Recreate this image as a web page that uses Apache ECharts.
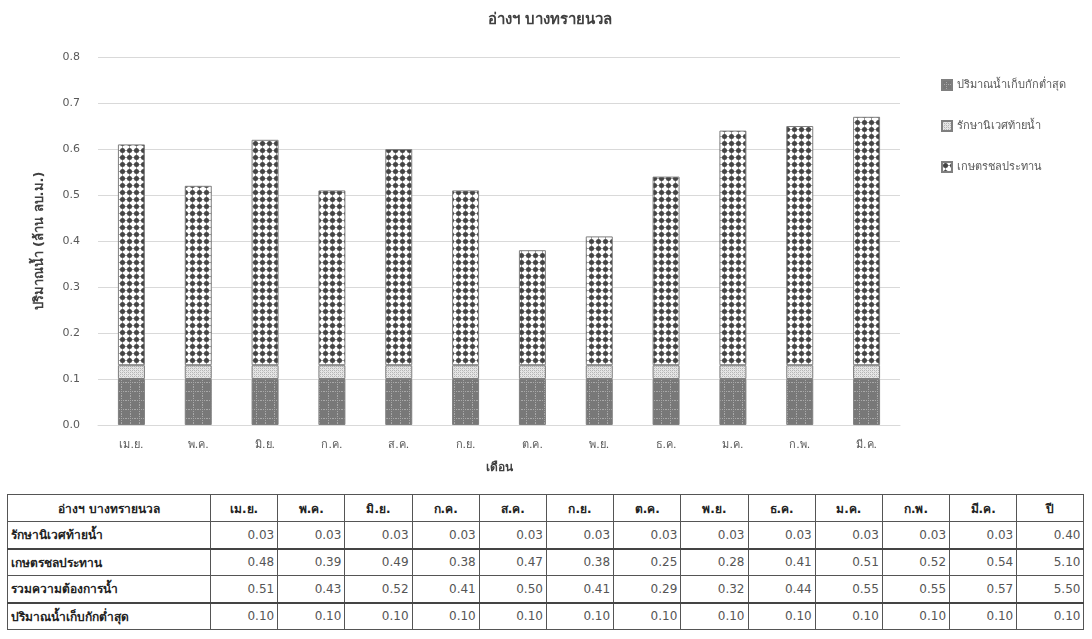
<!DOCTYPE html>
<html>
<head>
<meta charset="utf-8">
<script src="https://cdn.jsdelivr.net/npm/echarts@6/dist/echarts.min.js"></script>
<style>
html,body{margin:0;padding:0;background:#fff;}
#wrap{position:relative;width:1092px;height:639px;overflow:hidden;}
#chart{position:absolute;left:0;top:0;width:1092px;height:490px;}
#tbl{position:absolute;left:7px;top:494px;border-collapse:collapse;font-family:Tahoma,"DejaVu Sans","Noto Sans",sans-serif;font-size:12px;color:#222;table-layout:fixed;}
#tbl td,#tbl th{border:1px solid #555;height:27px;padding:0 3px;box-sizing:border-box;}
#tbl th{font-weight:bold;text-align:center;height:27px;}
#tbl td.lbl{font-weight:bold;text-align:left;}
#tbl td.num{text-align:right;color:#555;}
#tbl tr.thick td{border-top:2px solid #444;}
</style>
</head>
<body>
<div id="wrap">
<div id="chart"></div>
<table id="tbl"></table>
</div>
<script>
// ---- data ----
const title = 'อ่างฯ บางทรายนวล';
const months = ['เม.ย.','พ.ค.','มิ.ย.','ก.ค.','ส.ค.','ก.ย.','ต.ค.','พ.ย.','ธ.ค.','ม.ค.','ก.พ.','มี.ค.'];
const ecoName = 'รักษานิเวศท้ายน้ำ';
const agriName = 'เกษตรชลประทาน';
const totalName = 'รวมความต้องการน้ำ';
const minName = 'ปริมาณน้ำเก็บกักต่ำสุด';
const eco = [0.03,0.03,0.03,0.03,0.03,0.03,0.03,0.03,0.03,0.03,0.03,0.03];
const agri = [0.48,0.39,0.49,0.38,0.47,0.38,0.25,0.28,0.41,0.51,0.52,0.54];
const total = [0.51,0.43,0.52,0.41,0.50,0.41,0.29,0.32,0.44,0.55,0.55,0.57];
const minStorage = [0.10,0.10,0.10,0.10,0.10,0.10,0.10,0.10,0.10,0.10,0.10,0.10];
const yearLabel = 'ปี';
const yearEco = 0.40, yearAgri = 5.10, yearTotal = 5.50, yearMin = 0.10;
const yTicks = [0,0.1,0.2,0.3,0.4,0.5,0.6,0.7,0.8];
const yAxisName = 'ปริมาณน้ำ (ล้าน ลบ.ม.)';
const xAxisName = 'เดือน';

// ---- patterns ----
function tile(w,h,draw){const c=document.createElement('canvas');c.width=w;c.height=h;const g=c.getContext('2d');draw(g,w,h);return c;}
const pMin = tile(9,9,(g)=>{g.fillStyle='#787878';g.fillRect(0,0,9,9);g.fillStyle='#a8a8a8';
  for(let i=0;i<9;i+=2){g.fillRect(4,i,1,1);g.fillRect(i,4,1,1);} });
const pEco = tile(4,4,(g)=>{g.fillStyle='#e6e6e6';g.fillRect(0,0,4,4);g.fillStyle='#b5b5b5';
  g.fillRect(0,0,1,1);g.fillRect(2,2,1,1);g.fillRect(2,0,1,1);g.fillRect(0,2,1,1);g.fillStyle='#cfcfcf';g.fillRect(1,1,1,1);g.fillRect(3,3,1,1);});
const pAgri = tile(7,7,(g)=>{g.fillStyle='#ffffff';g.fillRect(0,0,7,7);g.fillStyle='#444444';
  g.beginPath();g.arc(3.5,3.5,2.5,0,Math.PI*2);g.fill();
  g.fillStyle='#9a9a9a';g.fillRect(3,0,1,1);g.fillRect(3,6,1,1);g.fillRect(0,3,1,1);g.fillRect(6,3,1,1);});

const chart = echarts.init(document.getElementById('chart'),null,{renderer:'canvas'});
const font = 'Tahoma, "DejaVu Sans", "Noto Sans", sans-serif';
const mk = (name,data,pat)=>({name,type:'bar',stack:'s',data,barWidth:27,
  itemStyle:{color:{image:pat,repeat:'repeat'},borderColor:'#7f7f7f',borderWidth:1}});
chart.setOption({
  animation:false,
  textStyle:{fontFamily:font},
  title:{text:title,left:545,textAlign:'center',top:8,textStyle:{fontSize:15,fontWeight:'bold',color:'#404040',fontFamily:font}},
  legend:{orient:'vertical',left:936,top:74,itemWidth:10,itemHeight:10,itemGap:29,icon:'rect',
    data:[minName,ecoName,agriName],textStyle:{fontSize:11,color:'#595959',fontFamily:font}},
  grid:{left:98,right:192,top:57,bottom:65,containLabel:false},
  xAxis:{type:'category',data:months,name:xAxisName,nameLocation:'middle',nameGap:37,
    nameTextStyle:{fontWeight:'bold',fontSize:12,color:'#404040'},
    axisLine:{lineStyle:{color:'#d9d9d9'}},axisTick:{show:false},
    axisLabel:{color:'#595959',fontSize:11,margin:15}},
  yAxis:{type:'value',min:yTicks[0],max:yTicks[yTicks.length-1],interval:0.1,
    name:yAxisName,nameLocation:'middle',nameGap:52,
    nameTextStyle:{fontWeight:'bold',fontSize:13,color:'#404040'},
    axisLabel:{color:'#595959',fontSize:11,margin:18,formatter:v=>v.toFixed(1)},
    axisLine:{show:false},axisTick:{show:false},
    splitLine:{lineStyle:{color:'#d9d9d9'}}},
  series:[mk(minName,minStorage,pMin),mk(ecoName,eco,pEco),mk(agriName,agri,pAgri)]
});

// ---- table ----
const tbl = document.getElementById('tbl');
const colW = 67.2;
let html = '<colgroup><col style="width:203px">'+months.map(()=>'<col style="width:'+colW+'px">').join('')+'<col style="width:'+colW+'px"></colgroup>';
html += '<tr><th>'+title+'</th>'+months.map(m=>'<th>'+m+'</th>').join('')+'<th>'+yearLabel+'</th></tr>';
const rows = [[ecoName,eco,yearEco,''],[agriName,agri,yearAgri,'thick'],[totalName,total,yearTotal,''],[minName,minStorage,yearMin,'thick']];
rows.forEach(r=>{html+='<tr class="'+r[3]+'"><td class="lbl">'+r[0]+'</td>'+r[1].map(v=>'<td class="num">'+v.toFixed(2)+'</td>').join('')+'<td class="num">'+r[2].toFixed(2)+'</td></tr>';});
tbl.innerHTML = html;
</script>
</body>
</html>
